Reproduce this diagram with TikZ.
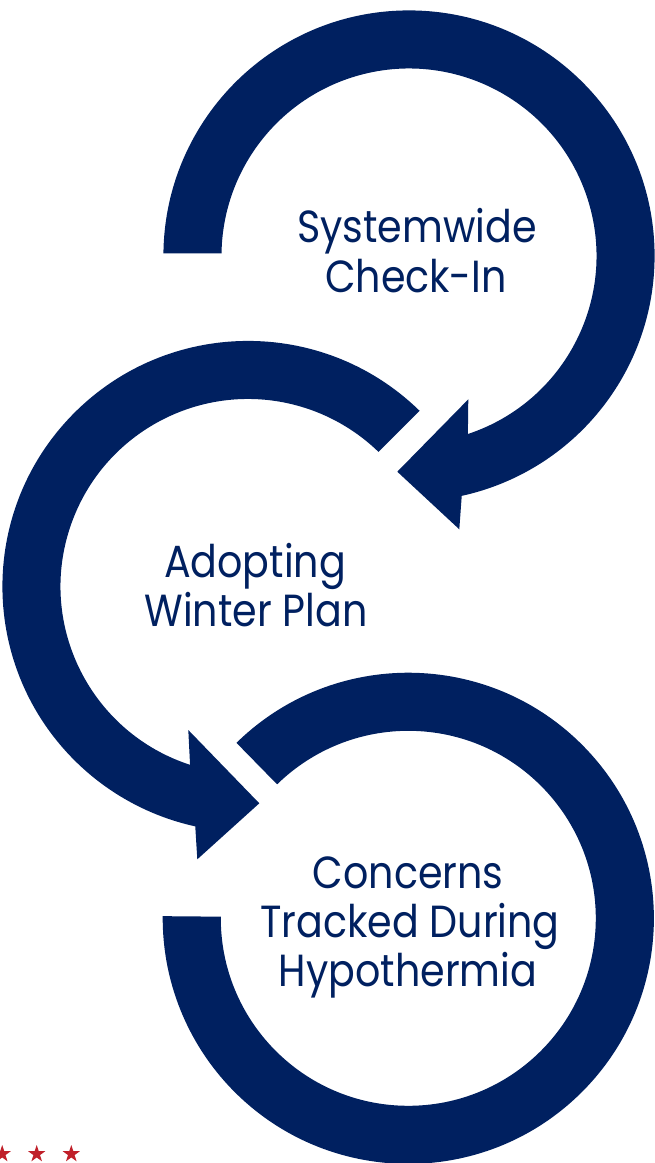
\documentclass[tikz,border=0pt]{standalone}
\usepackage{fontspec}
\setmainfont{Poppins}
\usetikzlibrary{shapes.geometric}
\definecolor{navy}{HTML}{002060}
\definecolor{starred}{HTML}{C0202A}
\newcommand{\narrowtxt}[1]{\scalebox{0.88}[1]{#1}}
\begin{document}
\begin{tikzpicture}[x=1pt,y=1pt,
  arcshape/.style={fill=navy, draw=none},
  lbl/.style={text=navy, font=\fontsize{45}{49}\selectfont, anchor=base, inner sep=0pt},
  redstar/.style={star, star points=5, star point ratio=2.6, fill=starred, draw=none, minimum size=18pt, inner sep=0pt}]
\useasboundingbox (0,0) rectangle (654,-1163);

% Arc 1: Systemwide Check-In
\fill[arcshape, shift={(409,-256)}]
  (179.4:245.6) arc[start angle=179.4, end angle=-77.6, radius=245.6]
  -- (50.3,-273.3) -- (-11.7,-215.7) -- (59.3,-143.3)
  -- (-71.7:187.5) arc[start angle=-71.7, end angle=179.2, radius=187.5] -- cycle;

% Arc 2: Adopting Winter Plan
\fill[arcshape, shift={(248,-586.5)}]
  (45.7:245.6) arc[start angle=45.7, end angle=257.6, radius=245.6]
  -- (-50.7,-272.8) -- (11.3,-216.8) -- (-59.7,-143.5)
  -- (252:187.5) arc[start angle=252, end angle=45.9, radius=187.5] -- cycle;

% Arc 3: Concerns
\fill[arcshape, shift={(408.3,-918.3)}]
  (134.4:245.6) arc[start angle=134.4, end angle=-180.5, radius=245.6]
  -- (-180.5:187.5) arc[start angle=-180.5, end angle=134.4, radius=187.5] -- cycle;

\node[lbl] (t1a) at (417,-242.8) {\narrowtxt{Systemwide}};
\node[lbl] (t1b) at (416,-292) {\narrowtxt{Check-In}};
\node[lbl] (t2a) at (255,-577.2) {\narrowtxt{Adopting}};
\node[lbl] (t2b) at (256,-626.1) {\narrowtxt{Winter Plan}};
\node[lbl] (t3a) at (408.3,-888.3) {\narrowtxt{Concerns}};
\node[lbl] (t3b) at (410,-937.3) {\narrowtxt{Tracked During}};
\node[lbl] (t3c) at (408,-986.7) {\narrowtxt{Hypothermia}};

\node[redstar] (s1) at (2.2,-1154) {};
\node[redstar] (s2) at (36.7,-1154) {};
\node[redstar] (s3) at (71.3,-1154) {};
\end{tikzpicture}
\end{document}
